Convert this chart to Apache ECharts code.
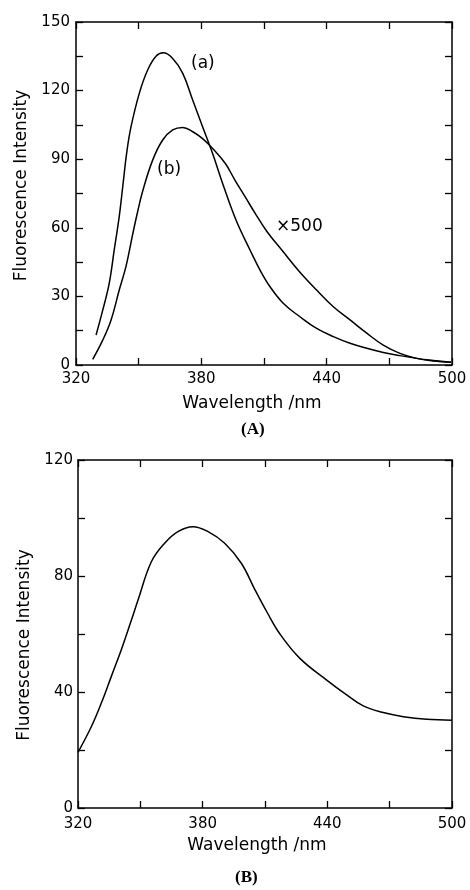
<!DOCTYPE html>
<html>
<head>
<meta charset="utf-8">
<script src="https://cdn.jsdelivr.net/npm/echarts@6/dist/echarts.min.js"></script>
<style>
  html, body { margin: 0; padding: 0; background: #fff; }
  #chart { width: 470px; height: 890px; }
</style>
</head>
<body>
<div id="chart"></div>
<script>
// panel A, curve (a)
const waveA = [329.6, 332.8, 335.9, 338.3, 340.7, 342.5, 344.3, 346.3, 350.3, 354.3, 358.3, 361.8, 366.3, 371.1, 375.9, 380.6, 385.4, 390.2, 396.6, 403.3, 408.1, 412.9, 419.2, 427.2, 435.2, 443.2, 451.2, 459.2, 467.1, 475.1, 483.1, 491, 499.5]
const intensA = [13.1, 24, 35.7, 50.3, 65, 79, 93, 104, 118.8, 129, 135, 136.5, 134, 127.5, 115.8, 104.2, 92.5, 79.4, 63.4, 50.3, 41.5, 34.2, 27, 21.1, 16, 12.4, 9.5, 7.3, 5.5, 4.1, 2.9, 2, 1.2]

// panel A, curve (b)
const waveB = [328, 332.8, 336.8, 340.7, 343.9, 347.1, 349.5, 351.9, 356.7, 361.5, 366.3, 371.1, 375.9, 380.6, 385.4, 391.5, 396, 401, 406, 411.3, 419.2, 427.2, 435.2, 443.2, 451.2, 459.2, 467.1, 475.1, 483.1, 491, 499.5]
const intensB = [2.5, 10.9, 19.7, 32.8, 43, 57, 67, 76, 89.6, 98.4, 102.8, 103.9, 102, 99, 94.7, 88.1, 81, 73.5, 66, 58.5, 49.5, 40.6, 32.8, 25.5, 19.7, 13.9, 8.7, 5.1, 2.9, 1.7, 1.2]

// panel B
const waveC = [320, 326.4, 331.2, 336, 340.8, 345.7, 348.9, 355.3, 361.7, 368.1, 375.3, 382.6, 390.6, 398.6, 405, 411, 417.2, 426.8, 439.7, 449.3, 457.3, 466.9, 476.6, 487.8, 500]
const intensC = [19.2, 28, 36.1, 45.3, 54.5, 64.8, 71.7, 84.9, 91.3, 95.3, 97, 95.3, 91.3, 84.4, 75.5, 67.5, 60, 51.6, 44.1, 39, 35.2, 32.9, 31.5, 30.6, 30.3]

const xTicks = { min: 320, max: 500, interval: 60 }
const yTicksTop = { min: 0, max: 150, interval: 30 }
const yTicksBottom = { min: 0, max: 120, interval: 40 }

const FONT = 'DejaVu Sans'
const lineStyle = { color: '#000', width: 1.5 }

const pairs = (xs, ys) => xs.map((x, i) => [x, ys[i]])

function valueAxis(range, gridIndex, position, opts) {
  return {
    type: 'value',
    gridIndex,
    position,
    min: range.min,
    max: range.max,
    interval: range.interval,
    axisLine: { show: true, onZero: false, lineStyle },
    axisTick: { show: true, inside: true, length: 7, lineStyle: { color: '#000', width: 1.3 } },
    minorTick: { show: true, splitNumber: 2, length: 7, lineStyle: { color: '#000', width: 1.3 } },
    splitLine: { show: false },
    axisLabel: { show: false },
    ...opts,
  }
}

const labelStyle = { show: true, color: '#000', fontFamily: FONT, fontSize: 15 }
const nameStyle = { color: '#000', fontFamily: FONT, fontSize: 17 }

function lineSeries(name, xi, yi, xs, ys) {
  return {
    name,
    type: 'line',
    xAxisIndex: xi,
    yAxisIndex: yi,
    smooth: 0.4,
    showSymbol: false,
    lineStyle,
    data: pairs(xs, ys),
  }
}

const chart = echarts.init(document.getElementById('chart'))

chart.setOption({
  backgroundColor: '#fff',
  animation: false,
  grid: [
    { left: 76, right: 18, top: 22, height: 343 },
    { left: 78, right: 18, top: 460, height: 348 },
  ],
  xAxis: [
    valueAxis(xTicks, 0, 'bottom', {
      axisLabel: { ...labelStyle, margin: 7 },
      name: 'Wavelength /nm',
      nameLocation: 'middle',
      nameGap: 30,
      nameTextStyle: { ...nameStyle, padding: [0, 24, 0, 0] },
    }),
    valueAxis(xTicks, 0, 'top'),
    valueAxis(xTicks, 1, 'bottom', {
      axisLabel: { ...labelStyle, margin: 9 },
      name: 'Wavelength /nm',
      nameLocation: 'middle',
      nameGap: 29,
      nameTextStyle: { ...nameStyle, padding: [0, 16, 0, 0] },
    }),
    valueAxis(xTicks, 1, 'top'),
  ],
  yAxis: [
    valueAxis(yTicksTop, 0, 'left', {
      axisLabel: { ...labelStyle, margin: 6 },
      name: 'Fluorescence Intensity',
      nameLocation: 'middle',
      nameGap: 44,
      nameTextStyle: { ...nameStyle, padding: [0, 0, 0, 16] },
    }),
    valueAxis(yTicksTop, 0, 'right'),
    valueAxis(yTicksBottom, 1, 'left', {
      axisLabel: { ...labelStyle, margin: 5 },
      name: 'Fluorescence Intensity',
      nameLocation: 'middle',
      nameGap: 45,
      nameTextStyle: { ...nameStyle, padding: [0, 22, 0, 0] },
    }),
    valueAxis(yTicksBottom, 1, 'right'),
  ],
  series: [
    lineSeries('(a)', 0, 0, waveA, intensA),
    lineSeries('(b)', 0, 0, waveB, intensB),
    lineSeries('B', 2, 2, waveC, intensC),
  ],
  graphic: [
    { type: 'text', left: 191, top: 55, style: { text: '(a)', font: `17px "${FONT}"`, fill: '#000' } },
    { type: 'text', left: 157, top: 161, style: { text: '(b)', font: `17px "${FONT}"`, fill: '#000' } },
    { type: 'text', left: 276, top: 218, style: { text: '×500', font: `17px "${FONT}"`, fill: '#000' } },
    { type: 'text', left: 241, top: 421, style: { text: '(A)', font: `bold 17px "Liberation Serif"`, fill: '#000' } },
    { type: 'text', left: 235, top: 869, style: { text: '(B)', font: `bold 17px "Liberation Serif"`, fill: '#000' } },
  ],
})
</script>
</body>
</html>
